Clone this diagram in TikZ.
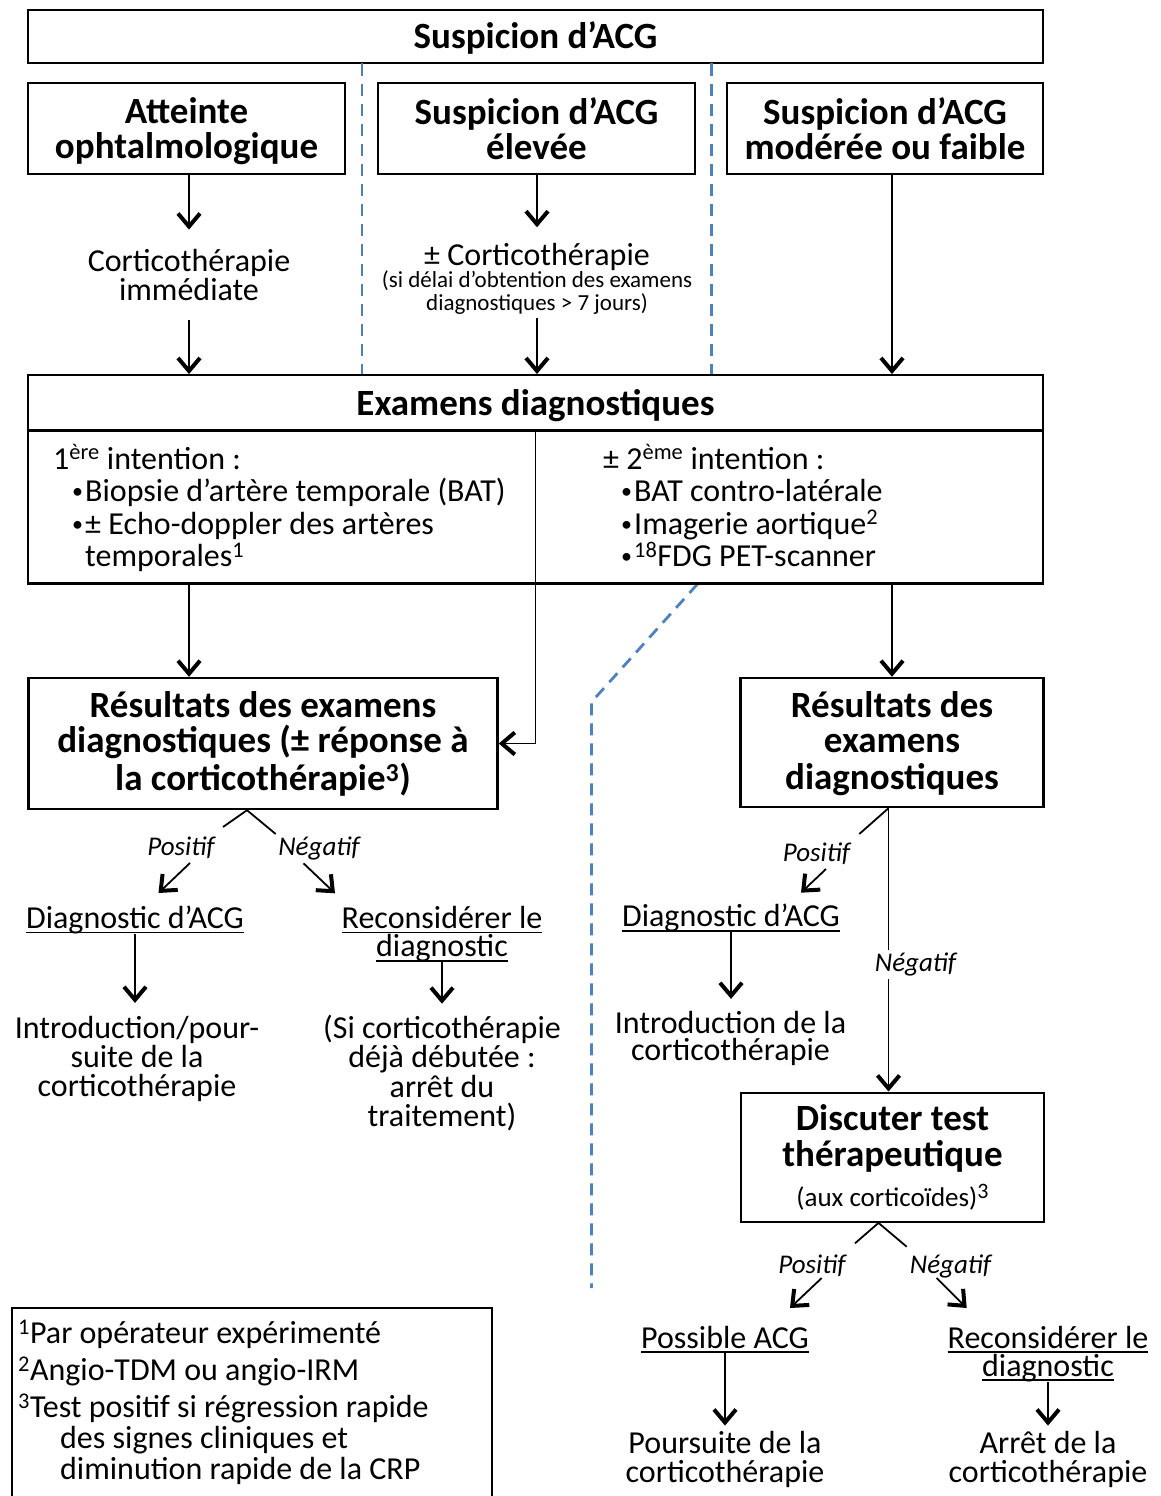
\documentclass[tikz,border=0pt]{standalone}
\usepackage{fontspec}
\setmainfont{Carlito}
\usetikzlibrary{arrows.meta,calc}
\definecolor{sepblue}{HTML}{4F81BD}
\newcommand{\bxfont}{\fontsize{37}{35}\selectfont\bfseries}
\newcommand{\nxfont}{\fontsize{32}{29}\selectfont}
\newcommand{\sxfont}{\fontsize{23}{22.7}\selectfont}
\newcommand{\ixfont}{\fontsize{27}{27}\selectfont\itshape}
\newcommand{\myul}[1]{\setbox0=\hbox{#1}\rlap{\rule[-5pt]{\wd0}{1.8pt}}\box0}
\newcommand{\mybul}{\makebox[14pt][l]{\hspace{1pt}\raisebox{3pt}{\fontsize{22}{22}\selectfont •}}}
\begin{document}
\begin{tikzpicture}[x=1pt,y=-1pt,
  box/.style={draw,line width=2.4pt,inner sep=0pt,align=center,font=\bxfont},
  txt/.style={inner sep=0pt,align=center,anchor=base,font=\nxfont},
  lbl/.style={inner sep=0pt,anchor=base,font=\ixfont},
  conn/.style={line width=1.8pt},
  arr/.style={line width=1.8pt,-{Straight Barb[length=13pt,width=22pt,line width=4pt]}},
  sep/.style={sepblue,line width=2.8pt,dash pattern=on 12pt off 8pt}]
\clip (0,0) rectangle (1160,1496);
% top boxes
\node[box,minimum width=1015pt,minimum height=53pt,text depth=3pt] (top) at (535.5,36.5) {Suspicion d’ACG};
\node[box,minimum width=317pt,minimum height=91pt,text depth=1.5pt] (b1) at (186.5,128.5) {Atteinte\\ophtalmologique};
\node[box,minimum width=317pt,minimum height=91pt] (b2) at (536.5,128.5) {Suspicion d’ACG\\élevée};
\node[box,minimum width=316pt,minimum height=91pt] (b3) at (885,128.5) {Suspicion d’ACG\\modérée ou faible};
% separators
\draw[sep] (362,63.5) -- (362,375);
\draw[sep] (711.5,63.5) -- (711.5,375);
\draw[sep] (697.5,584) -- (591.5,702) -- (591.5,1288);
% column texts
\node[txt,font=\fontsize{32}{28.5}\selectfont] (t1) at (189,300) {Corticothérapie\\immédiate};
\node[txt] (t2) at (537,265.7) {± Corticothérapie};
\node[txt,font=\sxfont] (t2s) at (537,310) {(si délai d’obtention des examens\\diagnostiques > 7 jours)};
% exam box
\node[box,minimum width=1015pt,minimum height=55.5pt,text depth=1pt] (examhead) at (535.5,403) {Examens diagnostiques};
\node[draw,line width=2.4pt,minimum width=1015pt,minimum height=153pt,inner sep=0pt] (exambody) at (535.5,507) {};
\node[txt,anchor=base west] (i1) at (53,469) {1\textsuperscript{ère} intention :};
\node[txt,anchor=base west] (i1a) at (71,501.7) {\mybul Biopsie d’artère temporale (BAT)};
\node[txt,anchor=base west] (i1b) at (71,534) {\mybul ± Echo-doppler des artères};
\node[txt,anchor=base west] (i1c) at (85,566.7) {temporales\textsuperscript{1}};
\node[txt,anchor=base west] (i2) at (603,469) {± 2\textsuperscript{ème} intention :};
\node[txt,anchor=base west] (i2a) at (620,501.7) {\mybul BAT contro-latérale};
\node[txt,anchor=base west] (i2b) at (620,534) {\mybul Imagerie aortique\textsuperscript{2}};
\node[txt,anchor=base west] (i2c) at (620,566.7) {\mybul\textsuperscript{18}FDG PET-scanner};
% result boxes
\node[box,minimum width=469pt,minimum height=131pt,text depth=4pt] (r1) at (263,743.5) {Résultats des examens\\diagnostiques (± réponse à\\[3pt]la corticothérapie\textsuperscript{3})};
\node[box,minimum width=303pt,minimum height=129pt,text depth=4pt] (r2) at (892,742.5) {Résultats des\\examens\\[2pt]diagnostiques};
% top arrows
\draw[arr,shorten >=19.5pt] (b1.south -| t1) -- (t1.north);
\draw[arr,shorten <=20pt] (t1.south) -- (examhead.north -| t1);
\draw[arr,shorten >=16pt] (b2.south -| t2) -- (t2.north);
\draw[arr,shorten <=4pt] (t2s.south) -- (examhead.north -| t2s);
\draw[arr] (b3.south -| r2) -- (examhead.north -| r2);
\draw[arr] (exambody.south -| t1) -- (r1.north -| t1);
\draw[arr] (exambody.south -| r2) -- (r2.north);
\draw[arr] (exambody.north) -- (exambody.north |- r1.east) -- (r1.east);
% R1 branches
\coordinate (r1apex) at ([xshift=-16pt]r1.south);
\coordinate (p1a) at (223,827);
\coordinate (p1b) at (190,863);
\coordinate (p1c) at (158.5,893);
\coordinate (n1a) at (275.7,834);
\coordinate (n1b) at (303.5,863.3);
\coordinate (n1c) at (335,893.3);
\draw[conn] (r1apex) -- (p1a);
\draw[conn] (r1apex) -- (n1a);
\node[lbl] (p1) at (181,855) {Positif};
\node[lbl] (n1) at (319,855) {Négatif};
\draw[arr] (p1b) -- (p1c);
\draw[arr] (n1b) -- (n1c);
\node[txt] (dg1) at (135,928.3) {\myul{Diagnostic d’ACG}};
\node[txt,font=\fontsize{32}{28.4}\selectfont] (rc1) at (442,956.7) {\myul{Reconsidérer le}\\\myul{diagnostic}};
\node[txt] (in1) at (137,1096.3) {Introduction/pour-\\suite de la\\corticothérapie};
\node[txt,font=\fontsize{32}{29.5}\selectfont] (si1) at (442,1126.8) {(Si corticothérapie\\déjà débutée :\\arrêt du\\traitement)};
\draw[arr,shorten >=13pt] (dg1.south) -- (dg1.south |- in1.north);
\draw[arr,shorten >=11pt] (rc1.south) -- (si1.north);
% R2 branches
\node[box,minimum width=303pt,minimum height=129pt,font=\fontsize{37}{36.7}\selectfont\bfseries] (disc) at (892.5,1157.2) {Discuter test\\thérapeutique\\[3pt]{\fontsize{27}{27}\selectfont\mdseries (aux corticoïdes)\raisebox{8pt}{\fontsize{22}{22}\selectfont 3}}};
\coordinate (r2apex) at ([xshift=-3.5pt]r2.south);
\coordinate (p2a) at (859.3,834);
\coordinate (p2b) at (826,869);
\coordinate (p2c) at (801,892.7);
\draw[conn] (r2apex) -- (p2a);
\node[lbl] (p2) at (816.5,861.7) {Positif};
\draw[arr] (p2b) -- (p2c);
\draw[arr] (r2apex) -- (r2apex |- disc.north);
\node[lbl,fill=white,inner sep=3pt] (n2) at (915.5,971.7) {Négatif};
\node[txt] (dg2) at (731,926.7) {\myul{Diagnostic d’ACG}};
\node[txt,font=\fontsize{32}{27}\selectfont] (in2) at (730.5,1060.3) {Introduction de la\\corticothérapie};
\draw[arr,shorten >=12pt] (dg2.south) -- (dg2.south |- in2.north);
% disc branches
\coordinate (dapex) at ([xshift=-14pt]disc.south);
\coordinate (p3a) at (855,1243.3);
\coordinate (p3b) at (821.7,1278);
\coordinate (p3c) at (790,1308);
\coordinate (n3a) at (906.7,1246.7);
\coordinate (n3b) at (936.7,1278);
\coordinate (n3c) at (966.7,1308);
\draw[conn] (dapex) -- (p3a);
\draw[conn] (dapex) -- (n3a);
\node[lbl] (p3) at (812,1273) {Positif};
\node[lbl] (n3) at (950.5,1273) {Négatif};
\draw[arr] (p3b) -- (p3c);
\draw[arr] (n3b) -- (n3c);
\node[txt] (pa) at (725,1348) {\myul{Possible ACG}};
\node[txt,font=\fontsize{32}{28}\selectfont] (rc2) at (1048,1376) {\myul{Reconsidérer le}\\\myul{diagnostic}};
\node[txt] (po) at (725,1482) {Poursuite de la\\corticothérapie};
\node[txt] (ar) at (1048,1482) {Arrêt de la\\corticothérapie};
\draw[arr,shorten >=5pt] (pa.south) -- (po.north);
\draw[arr,shorten >=5pt] (rc2.south) -- (ar.north);
% footnotes
\node[draw,line width=2pt,minimum width=480pt,minimum height=220pt,inner sep=0pt,anchor=north west] (foot) at (11,1307) {};
\node[txt,anchor=base west,align=left,font=\fontsize{32}{31}\selectfont] (ft) at (18,1479.3) {\textsuperscript{1}Par opérateur expérimenté\\[6pt]\textsuperscript{2}Angio-TDM ou angio-IRM\\[6pt]\textsuperscript{3}Test positif si régression rapide\\\hspace*{42pt}des signes cliniques et\\\hspace*{42pt}diminution rapide de la CRP};
\end{tikzpicture}
\end{document}
